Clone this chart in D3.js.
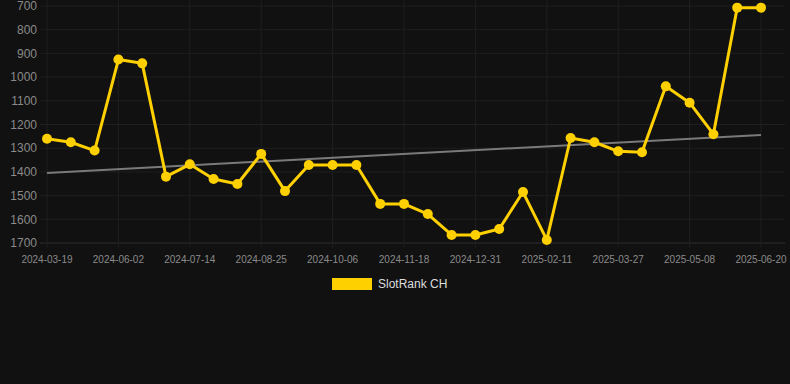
<!DOCTYPE html>
<html>
<head>
<meta charset="utf-8">
<script src="https://cdn.jsdelivr.net/npm/d3@7"></script>
<style>
  html, body { margin: 0; padding: 0; background: #111111; }
  svg { display: block; font-family: "Liberation Sans", Arial, sans-serif; }
</style>
</head>
<body>
<div id="chart"></div>
<script>
// dates on the category axis (every 3rd one is labelled)
let dates = [
  "2024-03-19", "2024-04-12", "2024-05-08", "2024-06-02", "2024-06-16", "2024-06-30",
  "2024-07-14", "2024-07-28", "2024-08-11", "2024-08-25", "2024-09-08", "2024-09-22",
  "2024-10-06", "2024-10-20", "2024-11-03", "2024-11-18", "2024-12-02", "2024-12-16",
  "2024-12-31", "2025-01-14", "2025-01-28", "2025-02-11", "2025-02-25", "2025-03-12",
  "2025-03-27", "2025-04-10", "2025-04-24", "2025-05-08", "2025-05-22", "2025-06-05",
  "2025-06-20"
];
let ranks = [
  1260, 1275, 1310, 926, 942, 1420,
  1368, 1430, 1451, 1324, 1481, 1371,
  1371, 1371, 1535, 1535, 1578, 1666,
  1666, 1641, 1485, 1687, 1257, 1275,
  1313, 1317, 1039, 1108, 1241, 707,
  707
];
let yTicks = [700, 800, 900, 1000, 1100, 1200, 1300, 1400, 1500, 1600, 1700];
let seriesName = "SlotRank CH";

let width = 790, height = 384;
let margin = {top: 6, right: 29, bottom: 141, left: 47};
let lineColor = "#ffd000";

let svg = d3.select("#chart")
    .append("svg")
    .attr("width", width)
    .attr("height", height);

let x = d3.scalePoint()
    .domain(dates)
    .range([margin.left, width - margin.right]);

let y = d3.scaleLinear()
    .domain([700, 1700])
    .range([margin.top, height - margin.bottom]);

// grid
let grid = svg.append("g");
grid.selectAll("line.h").data(yTicks).enter()
    .append("line")
    .attr("x1", 40).attr("x2", width - 5)
    .attr("y1", d => y(d)).attr("y2", d => y(d))
    .attr("stroke", d => d === 1700 ? "#2e2e2e" : "#1f1f1f")
    .attr("stroke-width", 1);

let labelled = dates.filter((d, i) => i % 3 === 0);
grid.selectAll("line.v").data(labelled).enter()
    .append("line")
    .attr("x1", d => x(d)).attr("x2", d => x(d))
    .attr("y1", 0).attr("y2", y(1700) + 5)
    .attr("stroke", "#1f1f1f")
    .attr("stroke-width", 1);

// y labels
svg.append("g").selectAll("text").data(yTicks).enter()
    .append("text")
    .attr("x", 37)
    .attr("y", d => y(d))
    .attr("dy", "0.35em")
    .style("text-anchor", "end")
    .style("font-size", "12px")
    .style("fill", "#8a8a8a")
    .text(d => d);

// x labels
svg.append("g").selectAll("text").data(labelled).enter()
    .append("text")
    .attr("x", d => x(d))
    .attr("y", y(1700) + 20)
    .style("text-anchor", "middle")
    .style("font-size", "10px")
    .style("fill", "#8a8a8a")
    .text(d => d);

// trend line (least squares on the series)
let n = ranks.length;
let mx = d3.mean(ranks, (d, i) => i), my = d3.mean(ranks);
let sxy = d3.sum(ranks, (d, i) => (i - mx) * (d - my));
let sxx = d3.sum(ranks, (d, i) => (i - mx) * (i - mx));
let slope = sxy / sxx, icept = my - slope * mx;
svg.append("line")
    .attr("x1", x(dates[0])).attr("y1", y(icept))
    .attr("x2", x(dates[n - 1])).attr("y2", y(icept + slope * (n - 1)))
    .attr("stroke", "#7a7a7a")
    .attr("stroke-width", 2);

// series
let line = d3.line()
    .x((d, i) => x(dates[i]))
    .y(d => y(d));

svg.append("path")
    .datum(ranks)
    .attr("d", line)
    .attr("fill", "none")
    .attr("stroke", lineColor)
    .attr("stroke-width", 3)
    .attr("stroke-linejoin", "round");

svg.append("g").selectAll("circle").data(ranks).enter()
    .append("circle")
    .attr("cx", (d, i) => x(dates[i]))
    .attr("cy", d => y(d))
    .attr("r", 5)
    .attr("fill", lineColor);

// legend
svg.append("rect")
    .attr("x", 332).attr("y", 278)
    .attr("width", 40).attr("height", 12)
    .attr("fill", lineColor);
svg.append("text")
    .attr("x", 378).attr("y", 284)
    .attr("dy", "0.35em")
    .style("font-size", "12px")
    .style("fill", "#dddddd")
    .text(seriesName);
</script>
</body>
</html>
